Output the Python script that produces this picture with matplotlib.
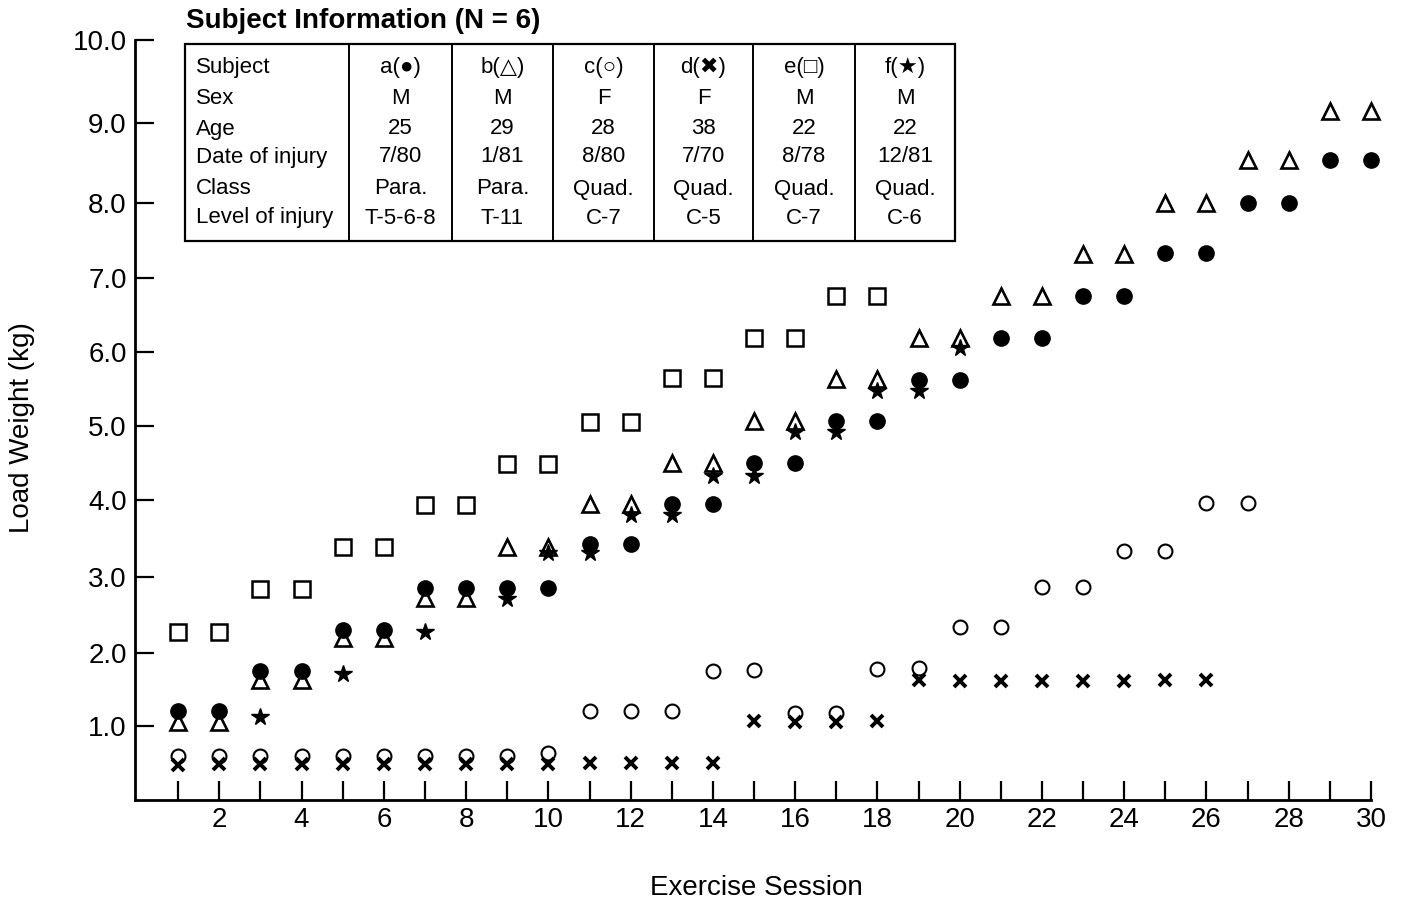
import numpy as np
import matplotlib
matplotlib.use("Agg")
import matplotlib.pyplot as plt
from matplotlib.lines import Line2D
from matplotlib.patches import Rectangle

plt.rcParams['font.family'] = ['Liberation Sans', 'DejaVu Sans']

# ---------------- data ----------------
sessions = np.arange(1, 31)

a_vals = [1.2, 1.2, 1.75, 1.75, 2.3, 2.3, 2.85, 2.85, 2.85, 2.85,
          3.43, 3.43, 3.95, 3.95, 4.5, 4.5, 5.07, 5.07, 5.62, 5.62,
          6.19, 6.19, 6.76, 6.76, 7.33, 7.33, 8.0, 8.0, 8.54, 8.54]
b_vals = [1.05, 1.05, 1.63, 1.63, 2.2, 2.2, 2.72, 2.72, 3.39, 3.39,
          3.95, 3.95, 4.5, 4.5, 5.07, 5.07, 5.63, 5.63, 6.19, 6.19,
          6.76, 6.76, 7.32, 7.32, 8.0, 8.0, 8.54, 8.54, 9.14, 9.14]
c_sessions = list(range(1, 28))
c_vals = [0.6, 0.6, 0.6, 0.6, 0.6, 0.6, 0.6, 0.6, 0.6, 0.63,
          1.2, 1.2, 1.2, 1.75, 1.77, 1.18, 1.18, 1.78, 1.8, 2.34,
          2.34, 2.87, 2.87, 3.34, 3.34, 3.96, 3.96]
d_sessions = list(range(1, 27))
d_vals = [0.47, 0.48, 0.48, 0.48, 0.48, 0.48, 0.48, 0.48, 0.48, 0.48,
          0.5, 0.5, 0.5, 0.5, 1.07, 1.05, 1.05, 1.07, 1.63, 1.62,
          1.62, 1.62, 1.62, 1.62, 1.63, 1.63]
e_sessions = list(range(1, 19))
e_vals = [2.28, 2.28, 2.84, 2.84, 3.39, 3.39, 3.94, 3.94, 4.49, 4.49,
          5.05, 5.05, 5.65, 5.65, 6.19, 6.19, 6.76, 6.76]
f_sessions = [3, 5, 7, 9, 10, 11, 12, 13, 14, 15, 16, 17, 18, 19, 20]
f_vals = [1.12, 1.71, 2.28, 2.71, 3.31, 3.31, 3.8, 3.8, 4.33, 4.33,
          4.92, 4.92, 5.47, 5.47, 6.05]

y_ticks = [1, 2, 3, 4, 5, 6, 7, 8, 9, 10]
y_tick_labels = ["1.0", "2.0", "3.0", "4.0", "5.0", "6.0", "7.0", "8.0", "9.0", "10.0"]
x_ticks = list(range(1, 31))
x_tick_labels = [str(i) if i % 2 == 0 else "" for i in x_ticks]

table_rows = ["Subject", "Sex", "Age", "Date of injury", "Class", "Level of injury"]
table_ids = ["a", "b", "c", "d", "e", "f"]
table_syms = ["\u25CF", "\u25B3", "\u25CB", "\u2716", "\u25A1", "\u2605"]
table_cols = [
    ["M", "25", "7/80", "Para.", "T-5-6-8"],
    ["M", "29", "1/81", "Para.", "T-11"],
    ["F", "28", "8/80", "Quad.", "C-7"],
    ["F", "38", "7/70", "Quad.", "C-5"],
    ["M", "22", "8/78", "Quad.", "C-7"],
    ["M", "22", "12/81", "Quad.", "C-6"],
]

# ---------------- figure ----------------
W, H = 1402, 902
fig = plt.figure(figsize=(W / 100, H / 100), dpi=100)

def fx(px):
    return px / W

def fy(py):
    return 1 - py / H

ax = fig.add_axes([fx(135), fy(800), fx(1371) - fx(135), fy(40) - fy(800)])

# printed (slightly uneven) vertical scale of the original figure
scale_vals = np.array([0, 1, 2, 3, 4, 5, 6, 7, 8, 9, 10], dtype=float)
scale_pos = np.array([0, 74, 147, 223, 300, 374, 448, 522, 597, 677, 760], dtype=float)

def fwd(v):
    return np.interp(v, scale_vals, scale_pos)

def inv(p):
    return np.interp(p, scale_pos, scale_vals)

ax.set_yscale('function', functions=(fwd, inv))

# open markers first (white fill), filled on top
kw = dict(ls='none', clip_on=False)
ax.plot(e_sessions, e_vals, marker='s', ms=11, mfc='white', mec='black', mew=1.8, zorder=3, **kw)
ax.plot(sessions, b_vals, marker='^', ms=12, mfc='white', mec='black', mew=1.9, zorder=3, **kw)
ax.plot(c_sessions, c_vals, marker='o', ms=10, mfc='white', mec='black', mew=1.5, zorder=3, **kw)
ax.plot(sessions, a_vals, marker='o', ms=11, mfc='black', mec='black', zorder=4, **kw)
ax.plot(f_sessions, f_vals, marker='*', ms=13, mfc='black', mec='black', zorder=5, **kw)
ax.plot(d_sessions, d_vals, marker='x', ms=9, mec='black', mew=2.8, zorder=5, **kw)

ax.set_xlim(-0.05, 30)
ax.set_ylim(0, 10)

for s in ['top', 'right']:
    ax.spines[s].set_visible(False)
for s in ['left', 'bottom']:
    ax.spines[s].set_linewidth(2.0)

ax.set_yticks(y_ticks)
ax.set_yticklabels(y_tick_labels)
ax.set_xticks(x_ticks)
ax.set_xticklabels(x_tick_labels)
ax.tick_params(axis='y', direction='in', length=14, width=1.6, labelsize=20, pad=6)
ax.tick_params(axis='x', direction='in', length=14, width=1.6, labelsize=20, pad=5)
ax.minorticks_off()

fig.text(fx(22), fy(428), "Load Weight (kg)", rotation=90, fontsize=20,
         ha='center', va='center')
fig.text(fx(756), fy(888), "Exercise Session", fontsize=20, ha='center', va='center')

# ---------------- subject information table ----------------
fig.text(fx(186), fy(21), "Subject Information (N = 6)", fontsize=20,
         fontweight='bold', ha='left', va='center')

tx0, tx1, ty0, ty1 = 185, 955, 44, 241
fig.patches.append(Rectangle((fx(tx0), fy(ty1)), fx(tx1) - fx(tx0), fy(ty0) - fy(ty1),
                             transform=fig.transFigure, fill=True, facecolor='white',
                             edgecolor='black', linewidth=1.6, zorder=10))
col_edges = [185, 349, 452, 553, 654, 753, 855, 955]
for xe in col_edges[1:-1]:
    fig.lines.append(Line2D([fx(xe), fx(xe)], [fy(ty0), fy(ty1)], transform=fig.transFigure,
                            color='black', lw=1.4, zorder=11))

row_y = [68, 98, 129, 157, 189, 218]
for r, label in enumerate(table_rows):
    fig.text(fx(196), fy(row_y[r]), label, fontsize=16, ha='left', va='center', zorder=12)
for c, col in enumerate(table_cols):
    cx = (col_edges[c + 1] + col_edges[c + 2]) / 2
    fig.text(fx(cx), fy(row_y[0]), table_ids[c] + "(" + table_syms[c] + ")",
             fontsize=16, ha='center', va='center', zorder=12,
             family=['Liberation Sans', 'DejaVu Sans'])
    for r, val in enumerate(col):
        fig.text(fx(cx), fy(row_y[r + 1]), val, fontsize=16, ha='center', va='center', zorder=12)

fig.savefig("out.png", dpi=100)
